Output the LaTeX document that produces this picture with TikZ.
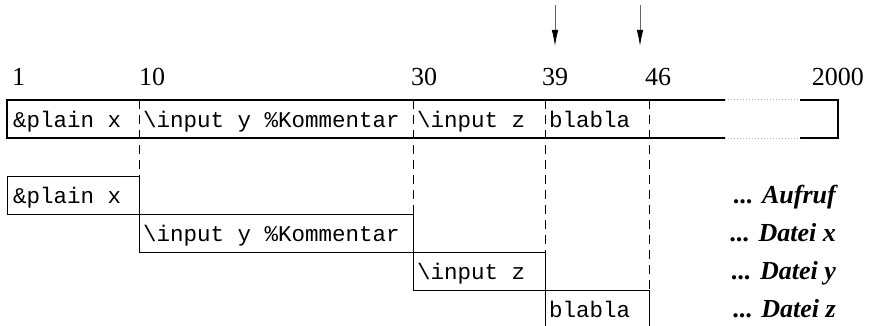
\documentclass[tikz,border=0pt]{standalone}
\usepackage{fontspec}
\setmainfont{Liberation Serif}
\setmonofont{Liberation Mono}
\usetikzlibrary{arrows.meta}

\tikzset{
  num/.style={anchor=base west, inner sep=0pt, font=\fontsize{26}{30}\selectfont},
  code/.style={anchor=base west, inner sep=0pt, font=\ttfamily\fontsize{22.5}{26}\selectfont},
  level/.style={anchor=base east, inner sep=0pt, font=\bfseries\itshape\fontsize{26}{30}\selectfont},
  divider/.style={line width=0.8pt, dash pattern=on 9pt off 6pt},
  rowbox/.style={line width=0.8pt},
  linebox/.style={line width=1.6pt},
  pointer/.style={black!60, line width=0.8pt, -{Latex[length=16pt,width=6.5pt,black]}}
}

\begin{document}
\begin{tikzpicture}[x=1pt,y=-1pt]
			\useasboundingbox (0,0) rectangle (874,326);
			
			%%%%% pointers %%%%%
			\coordinate (p39s) at (555,5);
			\coordinate (p39e) at (555,46);
			\coordinate (p46s) at (640,5);
			\coordinate (p46e) at (640,46);
			\draw[pointer] (p39s) -- (p39e);
			\draw[pointer] (p46s) -- (p46e);
			
			%%%%% column numbers %%%%%
			\node[num] (c1) at (12,85) {1};
			\node[num] (c10) at (139,85) {10};
			\node[num] (c30) at (411,85) {30};
			\node[num] (c39) at (542,85) {39};
			\node[num] (c46) at (645,85) {46};
			\node[num, anchor=base east] (c2000) at (864,85) {2000};
			
			%%%%% input line %%%%%
			\draw[linebox] (725,100) -- (7,100) -- (7,138) -- (725,138);
			\draw[linebox] (800,100) -- (838,100) -- (838,138) -- (800,138);
			\draw[black!30, line width=1pt, dotted] (725,100) -- (800,100);
			\draw[black!30, line width=1pt, dotted] (725,138) -- (800,138);
			
			\node[code] (l1) at (13,127) {\&plain x};
			\node[code] (l2) at (143,127) {\textbackslash input y \%Kommentar};
			\node[code] (l3) at (417,127) {\textbackslash input z};
			\node[code] (l4) at (549,127) {blabla};
			
			\foreach \x/\y in {139/176, 413/214, 545/252, 649/290}
				\draw[divider] (\x,100) -- (\x,\y);
			
			%%%%% staircase %%%%%
			\draw[rowbox] (7,176) rectangle (139,214);
			\draw[rowbox] (139,214) rectangle (413,252);
			\draw[rowbox] (413,252) rectangle (545,290);
			\draw[rowbox] (545,326) -- (545,290) -- (649,290) -- (649,326);
			
			\node[code] (r1) at (13,203) {\&plain x};
			\node[code] (r2) at (143,241) {\textbackslash input y \%Kommentar};
			\node[code] (r3) at (417,279) {\textbackslash input z};
			\node[code] (r4) at (549,317) {blabla};
			
			\node[level] (f1) at (836,203) {... Aufruf};
			\node[level] (f2) at (836,241) {... Datei x};
			\node[level] (f3) at (836,279) {... Datei y};
			\node[level] (f4) at (836,317) {... Datei z};
			
\end{tikzpicture}
\end{document}
